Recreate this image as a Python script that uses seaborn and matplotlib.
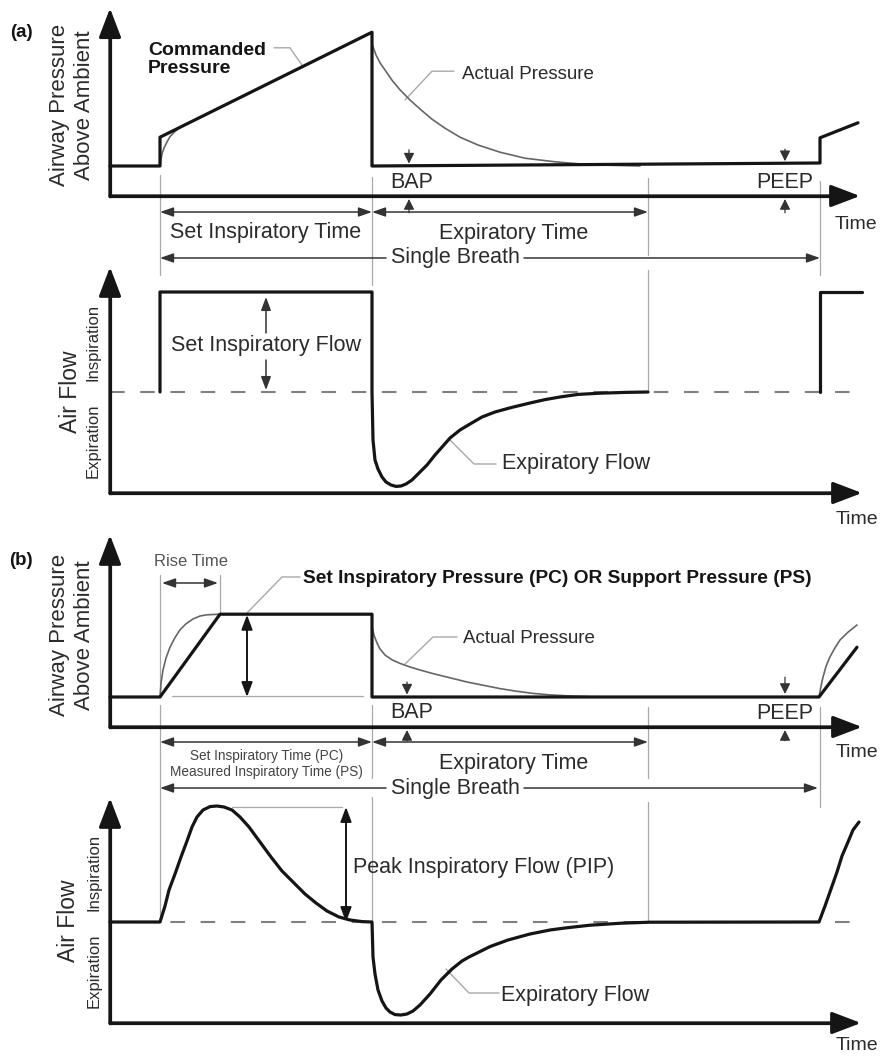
import matplotlib
matplotlib.use("Agg")
import matplotlib.pyplot as plt
import seaborn as sns

# schematic waveforms: time in s, pressure in cmH2O, flow in L/min

# (a) volume control - pressure
a_cmd_t = [0.0, 0.50, 0.50, 2.62, 2.62, 7.10, 7.10, 7.48]
a_cmd_p = [5.0, 5.0, 9.8, 27.3, 5.0, 5.5, 9.7, 12.2]
a_act_t = [0.50, 0.51, 0.52, 0.54, 0.57, 0.60, 0.64, 0.69, 0.75, 0.82, 2.62,
           2.62, 2.66, 2.70, 2.75, 2.82, 2.90, 3.00, 3.10, 3.22, 3.35, 3.50,
           3.68, 3.90, 4.15, 4.45, 4.80, 5.30]
a_act_p = [5.0, 6.1, 7.0, 8.0, 9.0, 9.9, 10.6, 11.3, 11.9, 12.4, 27.3,
           25.3, 23.5, 22.2, 21.0, 19.3, 17.7, 16.0, 14.5, 12.8, 11.3, 9.8,
           8.5, 7.3, 6.3, 5.7, 5.2, 5.0]

# (a) volume control - flow
a_flow_t = [0.50, 0.50, 2.62, 2.62, 2.63, 2.65, 2.68, 2.72, 2.76, 2.81, 2.86,
            2.91, 2.96, 3.02, 3.10, 3.17, 3.25, 3.33, 3.40, 3.50, 3.60, 3.72,
            3.85, 4.01, 4.20, 4.35, 4.50, 4.68, 4.90, 5.15, 5.38]
a_flow_f = [0, 50, 50, 0, -24, -34, -38.5, -42.5, -45, -46.5, -47.2,
            -47, -46, -44, -40, -36.5, -31.5, -27, -23, -19, -16, -12.5,
            -10, -7.8, -5.5, -3.8, -2.5, -1.2, -0.6, -0.2, 0]
a_next_t = [7.10, 7.10, 7.52]
a_next_f = [0, 50, 50]

# (b) pressure control / support - pressure
b_cmd_t = [0.0, 0.50, 1.10, 2.62, 2.62, 7.09, 7.47]
b_cmd_p = [5.0, 5.0, 18.8, 18.8, 5.0, 5.0, 13.3]
b_act_t = [0.50, 0.51, 0.53, 0.56, 0.60, 0.65, 0.70, 0.76, 0.83, 0.90, 0.97,
           1.10, 2.62, 2.62, 2.64, 2.67, 2.70, 2.75, 2.82, 2.90, 3.00, 3.10,
           3.23, 3.40, 3.57, 3.75, 3.90, 4.05, 4.23, 4.40, 4.57, 4.80, 5.00]
b_act_p = [5.0, 7.3, 9.5, 11.5, 13.3, 14.9, 16.2, 17.2, 18.0, 18.5, 18.7,
           18.8, 18.8, 16.7, 15.3, 14.0, 13.0, 12.0, 11.2, 10.6, 10.0, 9.5,
           8.9, 8.2, 7.5, 6.9, 6.4, 6.0, 5.6, 5.35, 5.2, 5.05, 5.0]
b_next_t = [7.09, 7.11, 7.13, 7.16, 7.20, 7.25, 7.30, 7.38, 7.47]
b_next_p = [5.0, 6.8, 8.3, 10.1, 11.7, 13.2, 14.5, 15.8, 17.0]

# (b) pressure control / support - flow
b_flow_t = [0.00, 0.50, 0.55, 0.59, 0.65, 0.71, 0.77, 0.82, 0.87, 0.93, 1.00,
            1.07, 1.14, 1.22, 1.30, 1.39, 1.50, 1.61, 1.72, 1.84, 1.95, 2.06,
            2.17, 2.29, 2.40, 2.52, 2.62, 2.63, 2.65, 2.68, 2.72, 2.76, 2.80,
            2.85, 2.91, 2.97, 3.03, 3.10, 3.20, 3.31, 3.42, 3.52, 3.59, 3.80,
            3.98, 4.20, 4.40, 4.55, 4.80, 5.11, 5.40, 7.09, 7.15, 7.21, 7.27,
            7.32, 7.38, 7.43, 7.49]
b_flow_f = [0, 0, 8, 16, 24, 32.5, 40.5, 47.5, 52.5, 56, 57.7,
            58, 57.5, 56, 52.5, 47.5, 40, 32.5, 25.5, 19.5, 14, 9.5,
            5.5, 2.5, 1.0, 0.2, 0, -17.5, -26, -34, -39.5, -43, -45,
            -46.3, -46.5, -46, -44.5, -41.5, -36, -29, -23.5, -19.5, -17.5, -12.3,
            -9, -6, -4, -3, -1.6, -0.6, -0.1, 0, 8, 16.5, 25,
            33, 40, 46, 50]

sns.set_theme(style="white")
plt.rcParams["font.family"] = ["Liberation Sans", "DejaVu Sans"]

INK = "#151515"
TXT = "#2b2b2b"
GREY = "#a8a8a8"

fig = plt.figure(figsize=(8.86, 10.57), dpi=100)
H = 1057.0


def band(top, bottom, ylim):
    ax = fig.add_axes([0, 1 - bottom / H, 1, (bottom - top) / H])
    ax.set_xlim(-1.10, 7.76)
    ax.set_ylim(*ylim)
    ax.axis("off")
    return ax


def curve(ax, t, v, color=INK, lw=2.3, z=3):
    sns.lineplot(x=t, y=v, ax=ax, color=color, linewidth=lw, sort=False,
                 estimator=None, zorder=z)


def axes_arrows(ax, ytip, y0, xtip):
    ax.plot([0, 0], [y0, ytip * 0.9 + y0 * 0.1], color=INK, lw=2.3,
            solid_capstyle="projecting", zorder=4)
    ax.plot([0, xtip - 0.1], [y0, y0], color=INK, lw=2.3,
            solid_capstyle="projecting", zorder=4)
    st = "-|>,head_length=1.05,head_width=0.4"
    for xy in [(0, ytip), (xtip, y0)]:
        ax.annotate("", xy=xy, xytext=(0, y0),
                    arrowprops=dict(arrowstyle=st, color=INK, lw=2.3,
                                    mutation_scale=17, shrinkA=0, shrinkB=0),
                    zorder=4)


def vline(ax, t, v0, v1):
    ax.plot([t, t], [v0, v1], color=GREY, lw=0.9, zorder=1, clip_on=False)


def leader(ax, ts, vs):
    ax.plot(ts, vs, color=GREY, lw=1.0, zorder=1)


def dim(ax, t0, t1, v, style="<|-|>", color="#333", lw=1.1, ms=10):
    ax.annotate("", xy=(t1, v), xytext=(t0, v),
                arrowprops=dict(arrowstyle=style + ",head_length=0.8,head_width=0.28",
                                color=color, lw=lw, mutation_scale=ms,
                                shrinkA=0, shrinkB=0))


def vdim(ax, t, v0, v1, style="<|-|>", color=INK, lw=1.4, ms=11):
    ax.annotate("", xy=(t, v1), xytext=(t, v0),
                arrowprops=dict(arrowstyle=style + ",head_length=0.8,head_width=0.3",
                                color=color, lw=lw, mutation_scale=ms,
                                shrinkA=0, shrinkB=0))


def pointer(ax, t, v0, v1):
    ax.annotate("", xy=(t, v1), xytext=(t, v0),
                arrowprops=dict(arrowstyle="-|>,head_length=0.9,head_width=0.45",
                                color="#333", lw=0.9, mutation_scale=7,
                                shrinkA=0, shrinkB=0))


def label(ax, t, v, s, size=15.5, **kw):
    opts = dict(fontsize=size, color=TXT, ha="center", va="center")
    opts.update(kw)
    ax.text(t, v, s, **opts)


ax_ap = band(0, 262, (-11.0, 32.667))
ax_af = band(262, 530, (-69, 65))
ax_bp = band(530, 795, (-11.333, 32.833))
ax_bf = band(795, 1057, (-67.5, 63.5))

# ---------------- (a) pressure ----------------
ax = ax_ap
curve(ax, a_act_t, a_act_p, color="#666666", lw=1.2, z=2)
curve(ax, a_cmd_t, a_cmd_p)
axes_arrows(ax, 31.3, 0, 7.50)
label(ax, -0.89, 27.3, "(a)", size=13.5, weight="bold", color=INK)
label(ax, -0.51, 15.2, "Airway Pressure", size=16, rotation=90)
label(ax, -0.26, 15.2, "Above Ambient", size=16, rotation=90)
label(ax, 0.38, 22.8, "Commanded\nPressure", size=14, ha="left",
      weight="bold", color=INK, linespacing=1.1)
leader(ax, [1.64, 1.80, 1.92], [24.7, 24.7, 21.8])
label(ax, 4.18, 20.3, "Actual Pressure", size=13.5)
leader(ax, [3.44, 3.22, 2.95], [20.8, 20.8, 16.0])
pointer(ax, 2.99, 7.7, 5.4)
pointer(ax, 2.99, -2.8, -0.5)
label(ax, 3.02, 2.3, "BAP")
pointer(ax, 6.75, 7.8, 5.8)
pointer(ax, 6.75, -2.8, -0.5)
label(ax, 6.75, 2.2, "PEEP")
label(ax, 7.46, -4.8, "Time", size=14)
dim(ax, 0.5, 2.62, -2.67)
dim(ax, 2.62, 5.38, -2.67)
label(ax, 1.56, -6.0, "Set Inspiratory Time")
label(ax, 4.04, -6.2, "Expiratory Time")
dim(ax, 0.5, 2.76, -10.33, style="<|-")
dim(ax, 4.14, 7.10, -10.33, style="-|>")
label(ax, 3.45, -10.33, "Single Breath")
vline(ax, 0.50, 3.5, -13.2)
vline(ax, 2.62, 3.2, -14.8)
vline(ax, 5.38, 3.0, -9.8)
vline(ax, 7.10, 2.5, -13.2)

# ---------------- (a) flow ----------------
ax = ax_af
ax.plot([0, 7.52], [0, 0], color="#808080", lw=1.5, ls=(0, (7, 7.5)), zorder=1)
curve(ax, a_flow_t, a_flow_f)
curve(ax, a_next_t, a_next_f)
axes_arrows(ax, 62.5, -50.5, 7.52)
label(ax, -0.40, 0, "Air Flow", size=16.5, rotation=90)
label(ax, -0.17, 25, "Inspiration", size=12, rotation=90)
label(ax, -0.17, -24.5, "Expiration", size=12, rotation=90)
label(ax, 1.56, 23, "Set Inspiratory Flow")
vdim(ax, 1.56, 29.5, 47.5, style="-|>", color="#333", lw=1.1, ms=10)
vdim(ax, 1.56, 16, 1, style="-|>", color="#333", lw=1.1, ms=10)
label(ax, 4.66, -36, "Expiratory Flow")
leader(ax, [3.86, 3.64, 3.39], [-36, -36, -23.5])
label(ax, 7.47, -63.5, "Time", size=14)
vline(ax, 5.38, 61, 0)

# ---------------- (b) pressure ----------------
ax = ax_bp
curve(ax, b_act_t, b_act_p, color="#666666", lw=1.2, z=2)
curve(ax, b_next_t, b_next_p, color="#666666", lw=1.2, z=2)
curve(ax, b_cmd_t, b_cmd_p)
axes_arrows(ax, 32.0, 0, 7.52)
label(ax, -0.89, 27.8, "(b)", size=13.5, weight="bold", color=INK)
label(ax, -0.51, 15.3, "Airway Pressure", size=16, rotation=90)
label(ax, -0.26, 15.3, "Above Ambient", size=16, rotation=90)
label(ax, 0.81, 27.5, "Rise Time", size=12, color="#555555")
dim(ax, 0.52, 1.08, 24.0)
vline(ax, 0.50, 25.3, 5.7)
vline(ax, 1.10, 25.3, 19.0)
label(ax, 1.93, 24.7, "Set Inspiratory Pressure (PC) OR Support Pressure (PS)",
      size=13.8, ha="left", weight="bold", color=INK)
leader(ax, [1.90, 1.72, 1.37], [25, 25, 19])
vdim(ax, 1.37, 18.7, 5.0)
ax.plot([0.62, 2.53], [5.17, 5.17], color=GREY, lw=0.9, zorder=1)
label(ax, 4.19, 14.7, "Actual Pressure", size=13.5)
leader(ax, [3.47, 3.23, 2.95], [15, 15, 10.5])
pointer(ax, 2.97, 7.5, 5.4)
pointer(ax, 2.97, -2.3, -0.5)
label(ax, 3.02, 2.5, "BAP")
pointer(ax, 6.75, 8.3, 5.5)
pointer(ax, 6.75, -2.3, -0.5)
label(ax, 6.75, 2.3, "PEEP")
label(ax, 7.47, -4.2, "Time", size=14)
dim(ax, 0.5, 2.62, -2.5)
dim(ax, 2.62, 5.38, -2.5)
label(ax, 1.565, -6.15, "Set Inspiratory Time (PC)\nMeasured Inspiratory Time (PS)",
      size=9.8, linespacing=1.2, color="#444444")
label(ax, 4.04, -6.0, "Expiratory Time")
dim(ax, 0.5, 2.76, -10.17, style="<|-")
dim(ax, 4.14, 7.08, -10.17, style="-|>")
label(ax, 3.45, -10.17, "Single Breath")
vline(ax, 0.50, 3.7, -32.5)
vline(ax, 2.62, 3.7, -8.5)
vline(ax, 5.38, 3.3, -8.5)
vline(ax, 7.10, 3.3, -13.3)

# ---------------- (b) flow ----------------
ax = ax_bf
ax.plot([0, 7.52], [0, 0], color="#808080", lw=1.5, ls=(0, (7, 7.5)), zorder=1)
curve(ax, b_flow_t, b_flow_f)
axes_arrows(ax, 62, -50.5, 7.51)
label(ax, -0.42, 0.5, "Air Flow", size=16.5, rotation=90)
label(ax, -0.16, 25, "Inspiration", size=12, rotation=90)
label(ax, -0.16, -24.5, "Expiration", size=12, rotation=90)
vdim(ax, 2.36, 57.5, 0)
ax.plot([1.22, 2.32], [57.5, 57.5], color=GREY, lw=0.9, zorder=1)
label(ax, 2.43, 27.5, "Peak Inspiratory Flow (PIP)", ha="left")
label(ax, 4.65, -36.5, "Expiratory Flow")
leader(ax, [3.89, 3.59, 3.36], [-35.5, -35.5, -23.5])
label(ax, 7.47, -62, "Time", size=14)
vline(ax, 2.62, 62.5, 0)
vline(ax, 5.38, 60, 0)

fig.savefig("out.png", dpi=100)
